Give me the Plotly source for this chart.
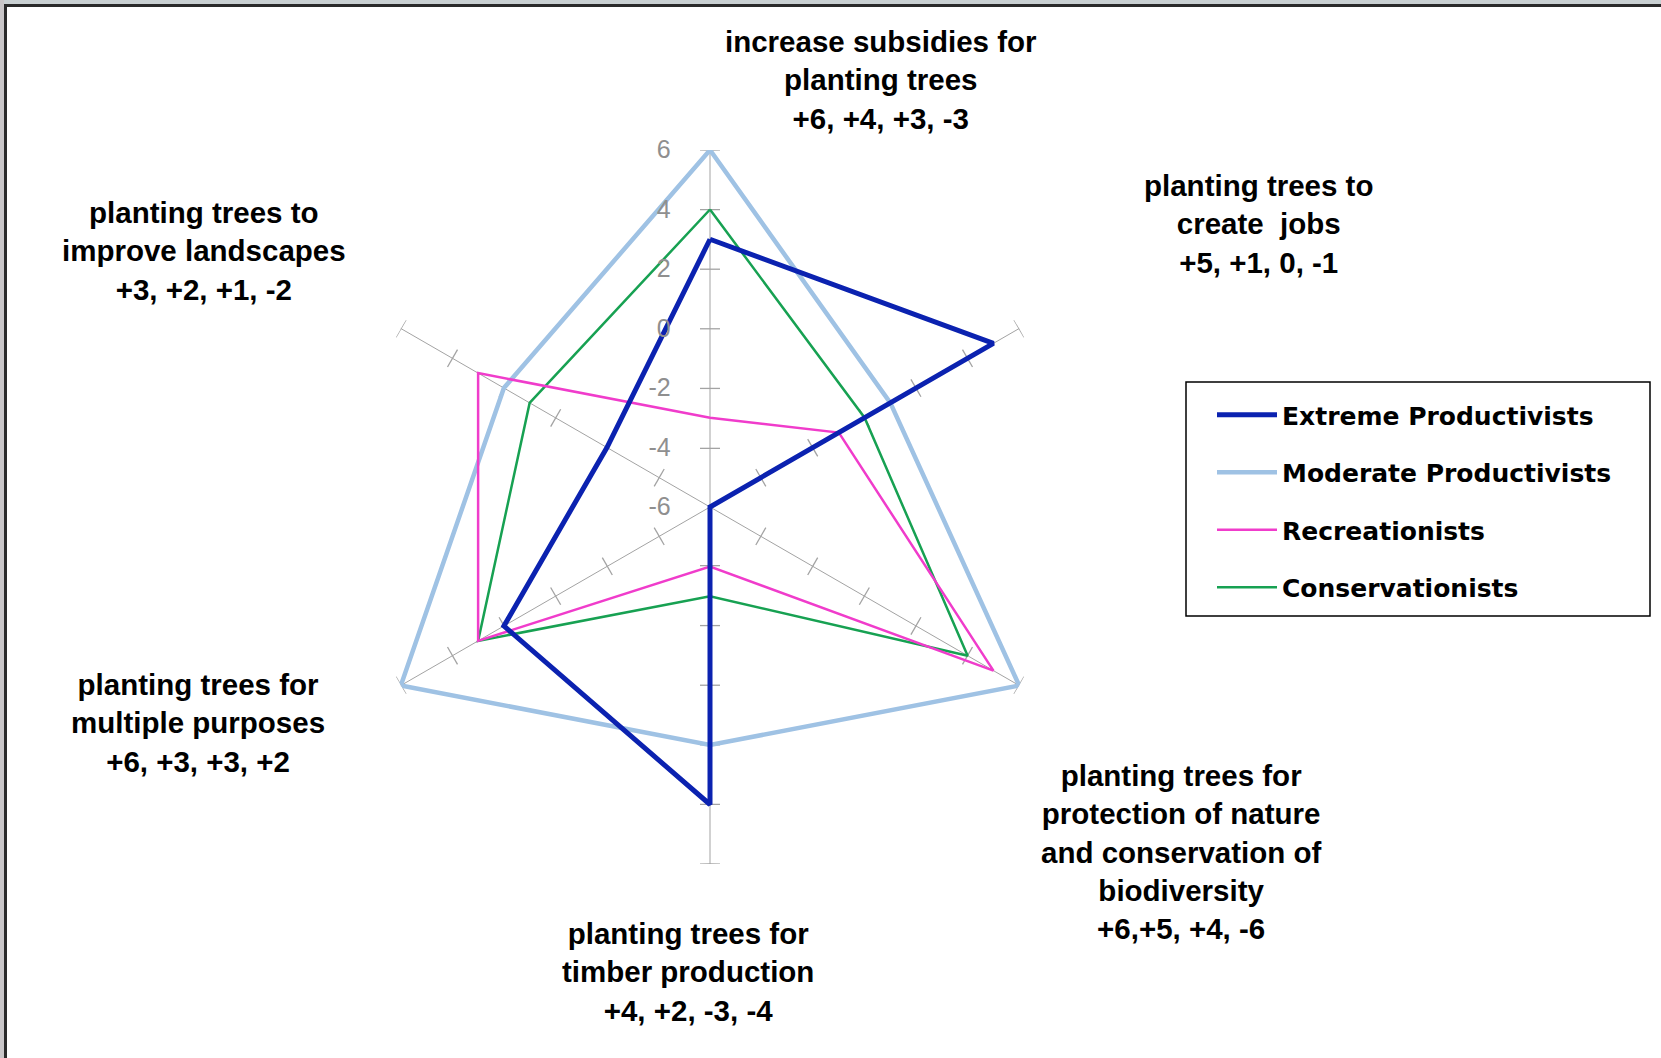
import math
import plotly.graph_objects as go

# ---------------- data ----------------
categories = [
    "increase subsidies for planting trees",
    "planting trees to create jobs",
    "planting trees for protection of nature and conservation of biodiversity",
    "planting trees for timber production",
    "planting trees for multiple purposes",
    "planting trees to improve landscapes",
]
category_labels = [
    "increase subsidies for<br>planting trees<br>+6, +4, +3, -3",
    "planting trees to<br>create  jobs<br>+5, +1, 0, -1",
    "planting trees for<br>protection of nature<br>and conservation of<br>biodiversity<br>+6,+5, +4, -6",
    "planting trees for<br>timber production<br>+4, +2, -3, -4",
    "planting trees for<br>multiple purposes<br>+6, +3, +3, +2",
    "planting trees to<br>improve landscapes<br>+3, +2, +1, -2",
]
series_names = ["Extreme Productivists", "Moderate Productivists", "Recreationists", "Conservationists"]
extreme = [3, 5, -6, 4, 2, -2]
moderate = [6, 1, 6, 2, 6, 2]
recreationists = [-3, -1, 5, -4, 3, 3]
conservationists = [4, 0, 4, -3, 3, 1]
radial_tickvals = [-6, -4, -2, 0, 2, 4, 6]
radial_ticktext = ["-6", "-4", "-2", "0", "2", "4", "6"]
spoke_tickvals = [-4, -2, 0, 2, 4, 6]

# ---------------- styling ----------------
W, H = 1661, 1058
cx, cy, R = 710, 507, 357          # polar centre / radius in pixels
RMIN, RMAX = -6, 6
colors = {
    "Extreme Productivists": "#0b22b0",
    "Moderate Productivists": "#9fc2e4",
    "Recreationists": "#f03ccb",
    "Conservationists": "#17a152",
}
widths = {
    "Extreme Productivists": 5,
    "Moderate Productivists": 4.5,
    "Recreationists": 2.5,
    "Conservationists": 2.5,
}
values = {
    "Extreme Productivists": extreme,
    "Moderate Productivists": moderate,
    "Recreationists": recreationists,
    "Conservationists": conservationists,
}
draw_order = ["Moderate Productivists", "Conservationists", "Recreationists", "Extreme Productivists"]
grey = "#a3a3a3"

# angular position of each category (degrees, clockwise from top)
spoke_angles = [i * 360 / len(categories) for i in range(len(categories))]

fig = go.Figure()

# small tick marks across every spoke: a short chord at each tick value
TICK_HALF = 10  # px
tick_r, tick_theta = [], []
for ang in spoke_angles:
    for v in spoke_tickvals:
        rho = (v - RMIN) / (RMAX - RMIN) * R
        d = math.degrees(math.asin(min(1.0, TICK_HALF / rho)))
        tick_r += [v, v, None]
        tick_theta += [ang - d, ang + d, None]
fig.add_trace(go.Scatterpolar(
    r=tick_r, theta=tick_theta, mode="lines",
    line=dict(color=grey, width=1.3),
    showlegend=False, hoverinfo="skip", cliponaxis=False, connectgaps=False,
))

for name in draw_order:
    vals = values[name]
    fig.add_trace(go.Scatterpolar(
        r=vals + vals[:1], theta=spoke_angles + spoke_angles[:1],
        mode="lines", name=name,
        line=dict(color=colors[name], width=widths[name]),
        legendrank=series_names.index(name) + 1,
        legendgroup=name,
        cliponaxis=False,
        text=categories + categories[:1],
        hovertemplate="%{text}: %{r}<extra>" + name + "</extra>",
    ))

# category label positions (pixel centres)
label_pos = [(881, 80), (1258, 224), (1181, 852), (688, 972), (198, 723), (204, 251)]
annotations = []
for text, (px, py) in zip(category_labels, label_pos):
    annotations.append(dict(
        text=text, x=px / W, y=1 - py / H, xref="paper", yref="paper",
        xanchor="center", yanchor="middle", showarrow=False, align="center",
        font=dict(family="Liberation Sans, Arial", size=29.5, color="black", weight="bold"),
    ))

fig.update_layout(
    width=W, height=H,
    margin=dict(l=0, r=0, t=0, b=0),
    paper_bgcolor="white",
    plot_bgcolor="white",
    polar=dict(
        domain=dict(x=[(cx - R) / W, (cx + R) / W], y=[1 - (cy + R) / H, 1 - (cy - R) / H]),
        bgcolor="white",
        radialaxis=dict(
            range=[RMIN, RMAX], tickvals=radial_tickvals, ticktext=radial_ticktext,
            angle=90, side="counterclockwise", tickangle=90,
            showline=False, showgrid=False,
            ticks="outside", ticklen=30, tickcolor="rgba(0,0,0,0)",
            tickfont=dict(family="Liberation Sans, Arial", size=25, color="#8f8f8f"),
        ),
        angularaxis=dict(
            type="linear", thetaunit="degrees",
            direction="clockwise", rotation=90,
            tickvals=spoke_angles,
            showticklabels=False, ticks="", showline=False,
            showgrid=True, gridcolor=grey, gridwidth=1.3,
        ),
    ),
    showlegend=True,
    legend=dict(
        x=1212 / W, y=1 - 392 / H, xanchor="left", yanchor="top",
        borderwidth=0, bgcolor="rgba(0,0,0,0)",
        font=dict(family="DejaVu Sans", size=25, color="black", weight="bold"),
        traceorder="grouped", tracegroupgap=22, itemwidth=60,
    ),
    annotations=annotations,
    shapes=[
        # legend frame
        dict(type="rect", xref="paper", yref="paper",
             x0=1186 / W, x1=1650 / W, y0=1 - 616 / H, y1=1 - 382 / H,
             line=dict(color="black", width=1.5), fillcolor="rgba(0,0,0,0)", layer="below"),
        # outer window frame (top & left)
        dict(type="rect", xref="paper", yref="paper", x0=0, x1=1, y0=1 - 4 / H, y1=1,
             fillcolor="#c9d0d2", line=dict(width=0), layer="above"),
        dict(type="rect", xref="paper", yref="paper", x0=0, x1=4 / W, y0=0, y1=1,
             fillcolor="#c9c6c8", line=dict(width=0), layer="above"),
        dict(type="line", xref="paper", yref="paper", x0=4 / W, x1=1, y0=1 - 5.5 / H, y1=1 - 5.5 / H,
             line=dict(color="#2a2a2a", width=3), layer="above"),
        dict(type="line", xref="paper", yref="paper", x0=5.5 / W, x1=5.5 / W, y0=0, y1=1 - 4 / H,
             line=dict(color="#2a2a2a", width=3), layer="above"),
    ],
)

fig.write_html(
    "out.html",
    config={"displayModeBar": False},
    post_script="document.body.style.margin='0';document.body.style.overflow='hidden';",
)
